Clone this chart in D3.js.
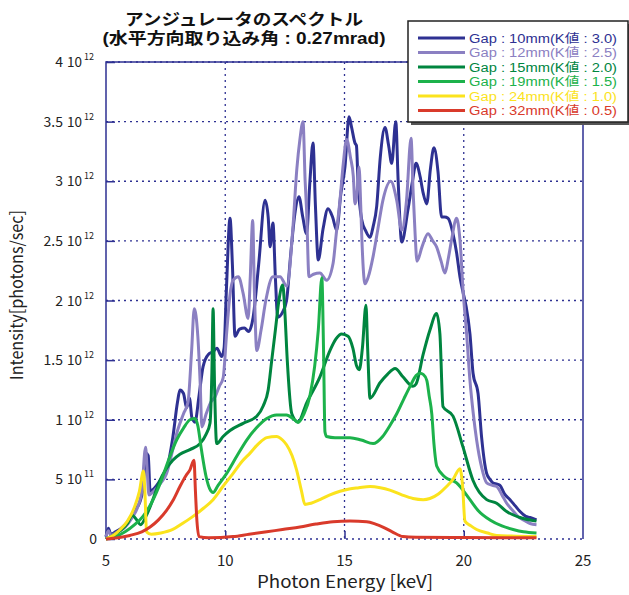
<!DOCTYPE html>
<html>
<head>
<meta charset="utf-8">
<script src="https://cdn.jsdelivr.net/npm/d3@7"></script>
<style>
  body { margin: 0; background: #fff; }
  svg { display: block; }
  text { font-family: "Noto Sans CJK JP", "Noto Sans", sans-serif; }
  .tight { font-family: "Liberation Sans", "Noto Sans CJK JP", sans-serif; }
</style>
</head>
<body>
<div id="vis-container"><svg width="629" height="595"></svg></div>
<script>
// values are in units of 1e12 photons/sec, energy in keV
var gap10 = [[5.0,0.02],[5.1,0.09],[5.2,0.04],[5.4,0.06],[5.7,0.1],[6.0,0.17],[6.15,0.23],[6.4,0.3],[6.55,0.42],[6.68,0.72],[6.77,0.70],[6.85,0.40],[7.0,0.42],[7.3,0.5],[7.54,0.58],[7.8,0.85],[8.0,1.15],[8.1,1.25],[8.25,1.22],[8.38,1.10],[8.5,1.18],[8.6,1.02],[8.73,0.98],[8.9,1.2],[9.07,1.445],[9.3,1.55],[9.49,1.57],[9.65,1.6],[9.85,1.53],[9.95,1.6],[10.05,2.1],[10.2,2.69],[10.3,2.3],[10.41,1.70],[10.6,1.76],[10.8,1.77],[10.98,1.74],[11.17,1.86],[11.4,2.3],[11.67,2.84],[11.8,2.7],[11.88,2.45],[12.0,2.65],[12.1,2.2],[12.2,1.86],[12.4,1.9],[12.57,2.0],[12.75,2.4],[12.92,2.73],[13.09,2.87],[13.25,2.7],[13.41,2.56],[13.55,3.0],[13.68,3.32],[13.78,2.8],[13.9,2.34],[14.1,2.6],[14.31,2.77],[14.5,2.7],[14.67,2.59],[14.85,2.9],[15.02,3.12],[15.19,3.54],[15.3,3.45],[15.44,3.32],[15.5,3.3],[15.57,2.98],[15.72,2.68],[15.9,2.58],[16.07,2.53],[16.2,2.62],[16.35,2.79],[16.5,3.2],[16.7,3.45],[16.85,3.3],[16.98,3.15],[17.15,3.5],[17.25,3.0],[17.4,2.49],[17.66,2.76],[17.85,3.0],[18.0,3.15],[18.17,3.04],[18.3,2.9],[18.45,2.81],[18.6,3.1],[18.75,3.28],[18.92,3.08],[19.07,2.70],[19.2,2.7],[19.34,2.69],[19.55,2.56],[19.7,2.4],[19.84,2.20],[19.98,2.06],[20.1,1.95],[20.26,1.72],[20.39,1.39],[20.6,1.22],[20.75,0.85],[20.96,0.55],[21.1,0.5],[21.23,0.47],[21.4,0.46],[21.52,0.45],[21.7,0.38],[21.94,0.33],[22.15,0.28],[22.36,0.23],[22.6,0.19],[22.78,0.18],[23.05,0.16]];

var gap12 = [[5.0,0.02],[5.1,0.07],[5.2,0.03],[5.5,0.06],[5.8,0.1],[6.1,0.18],[6.35,0.28],[6.5,0.4],[6.66,0.77],[6.72,0.6],[6.8,0.37],[7.0,0.4],[7.3,0.47],[7.54,0.55],[7.8,0.75],[8.0,0.91],[8.25,1.05],[8.44,1.15],[8.59,1.58],[8.7,1.93],[8.85,1.7],[8.95,1.3],[9.02,0.94],[9.2,1.05],[9.4,1.15],[9.57,1.19],[9.75,1.28],[9.91,1.35],[10.06,1.73],[10.2,2.05],[10.33,2.17],[10.55,2.2],[10.75,2.06],[10.96,1.85],[11.05,2.2],[11.15,2.67],[11.22,2.1],[11.32,1.58],[11.5,1.75],[11.7,2.0],[12.0,2.2],[12.3,2.2],[12.58,2.12],[12.84,2.62],[13.0,3.1],[13.13,3.35],[13.26,3.5],[13.35,3.0],[13.41,2.76],[13.51,2.2],[13.7,2.22],[13.97,2.23],[14.25,2.17],[14.52,2.31],[14.65,2.55],[14.81,2.84],[14.95,3.15],[15.09,3.35],[15.25,3.2],[15.37,3.04],[15.44,2.81],[15.52,2.9],[15.61,3.12],[15.68,2.8],[15.72,2.56],[15.86,2.14],[16.0,2.2],[16.2,2.37],[16.4,2.6],[16.61,2.84],[16.94,3.0],[17.19,2.84],[17.4,2.59],[17.6,2.84],[17.79,3.36],[17.88,2.9],[17.96,2.56],[18.04,2.33],[18.25,2.45],[18.5,2.56],[18.7,2.5],[18.86,2.45],[19.05,2.33],[19.21,2.23],[19.35,2.35],[19.49,2.51],[19.7,2.69],[19.84,2.51],[19.98,2.06],[20.12,1.72],[20.26,1.33],[20.4,1.05],[20.54,0.83],[20.75,0.6],[20.96,0.47],[21.2,0.45],[21.38,0.44],[21.6,0.37],[21.8,0.30],[22.05,0.24],[22.27,0.19],[22.5,0.16],[22.78,0.13],[23.05,0.12]];

var gap15 = [[5.0,0.0],[5.3,0.03],[5.6,0.07],[5.9,0.13],[6.1,0.2],[6.25,0.17],[6.45,0.12],[6.7,0.2],[7.0,0.35],[7.26,0.49],[7.5,0.58],[7.8,0.66],[8.1,0.71],[8.52,0.75],[8.94,0.80],[9.2,0.88],[9.36,0.97],[9.44,1.4],[9.49,1.93],[9.55,1.3],[9.64,0.80],[9.91,0.86],[10.2,0.91],[10.75,0.97],[11.32,1.03],[11.6,1.12],[11.8,1.25],[11.95,1.5],[12.1,1.75],[12.25,2.0],[12.41,2.13],[12.5,1.9],[12.6,1.5],[12.79,1.05],[13.05,0.98],[13.41,1.14],[13.97,1.36],[14.39,1.58],[14.65,1.68],[14.88,1.72],[15.15,1.70],[15.35,1.6],[15.51,1.45],[15.62,1.42],[15.75,1.6],[15.9,1.96],[15.97,1.6],[16.07,1.18],[16.49,1.31],[16.8,1.38],[17.12,1.43],[17.45,1.36],[17.87,1.28],[18.0,1.3],[18.3,1.55],[18.58,1.75],[18.86,1.89],[19.0,1.72],[19.13,1.11],[19.55,1.03],[19.97,0.77],[20.39,0.49],[20.96,0.33],[21.38,0.30],[21.8,0.23],[22.36,0.18],[23.05,0.15]];

var gap19 = [[5.0,0.0],[5.4,0.02],[5.8,0.06],[6.2,0.12],[6.55,0.19],[6.9,0.3],[7.3,0.48],[7.6,0.65],[7.96,0.83],[8.25,0.93],[8.52,1.0],[8.73,1.01],[8.85,0.95],[9.0,0.75],[9.2,0.52],[9.35,0.42],[9.49,0.39],[9.7,0.45],[10.06,0.55],[10.5,0.7],[10.9,0.83],[11.3,0.93],[11.74,1.01],[12.15,1.04],[12.57,1.04],[12.9,1.0],[13.06,0.98],[13.3,1.05],[13.55,1.2],[13.75,1.45],[13.9,1.75],[14.05,2.19],[14.12,1.6],[14.18,0.9],[14.25,0.86],[14.6,0.85],[15.23,0.85],[15.7,0.83],[16.2,0.80],[16.6,0.86],[16.9,0.95],[17.19,1.05],[17.5,1.18],[17.75,1.28],[18.0,1.37],[18.17,1.39],[18.3,1.38],[18.45,1.33],[18.55,1.2],[18.66,1.05],[18.75,0.8],[18.87,0.61],[19.21,0.52],[19.7,0.47],[20.26,0.33],[20.6,0.24],[21.1,0.16],[21.6,0.11],[22.07,0.08],[22.5,0.06],[23.05,0.05]];

var gap24 = [[5.0,0.0],[5.3,0.03],[5.6,0.08],[5.9,0.15],[6.2,0.27],[6.4,0.4],[6.57,0.57],[6.63,0.4],[6.7,0.06],[6.9,0.04],[7.3,0.05],[7.8,0.08],[8.2,0.13],[8.65,0.19],[9.1,0.26],[9.49,0.33],[9.9,0.44],[10.33,0.55],[10.7,0.65],[11.04,0.72],[11.4,0.8],[11.74,0.85],[12.15,0.86],[12.4,0.83],[12.57,0.79],[12.8,0.7],[12.99,0.58],[13.2,0.4],[13.34,0.29],[13.6,0.3],[13.97,0.33],[14.39,0.37],[14.81,0.40],[15.2,0.42],[15.6,0.43],[16.07,0.44],[16.5,0.43],[16.9,0.41],[17.4,0.37],[17.87,0.34],[18.3,0.33],[18.58,0.34],[18.95,0.38],[19.28,0.44],[19.55,0.5],[19.84,0.59],[19.95,0.45],[20.05,0.15],[20.3,0.11],[20.54,0.08],[21.0,0.05],[21.38,0.03],[22.0,0.025],[23.05,0.02]];

var gap32 = [[5.0,0.0],[5.5,0.01],[6.0,0.03],[6.5,0.06],[6.85,0.10],[7.2,0.16],[7.54,0.24],[7.8,0.32],[8.1,0.44],[8.35,0.53],[8.52,0.58],[8.69,0.66],[8.75,0.4],[8.8,0.19],[8.9,0.02],[9.3,0.01],[10.33,0.02],[11.0,0.04],[11.74,0.06],[12.4,0.08],[13.13,0.10],[13.8,0.125],[14.52,0.145],[15.23,0.15],[15.93,0.145],[16.3,0.125],[16.61,0.10],[17.0,0.06],[17.45,0.02],[18.0,0.015],[20.0,0.012],[23.05,0.01]];

var seriesNames = ['Gap : 10mm(K値 : 3.0)', 'Gap : 12mm(K値 : 2.5)', 'Gap : 15mm(K値 : 2.0)', 'Gap : 19mm(K値 : 1.5)', 'Gap : 24mm(K値 : 1.0)', 'Gap : 32mm(K値 : 0.5)'];
var seriesColors = ['#2e3192', '#8b80c2', '#00853f', '#1cb24b', '#fbe31d', '#d93a2b'];
var seriesData = [gap10, gap12, gap15, gap19, gap24, gap32];

var titleLines = ['アンジュレータのスペクトル', '(水平方向取り込み角 : 0.27mrad)'];

var xTicks = [5, 10, 15, 20, 25];
var yTicks = [0, 0.5, 1, 1.5, 2, 2.5, 3, 3.5, 4];
var yTickMantissa = ['0', '5', '1', '1.5', '2', '2.5', '3', '3.5', '4'];
var yTickExp = ['', '11', '12', '12', '12', '12', '12', '12', '12'];

var margin = { top: 62, left: 106, bottom: 56, right: 46 };
var svg = d3.select('#vis-container svg');
var svgWidth = 629, svgHeight = 595;
var axisColor = '#2e3192';

var xScale = d3.scaleLinear().domain([5, 25]).range([margin.left, svgWidth - margin.right]);
var yScale = d3.scaleLinear().domain([0, 4]).range([svgHeight - margin.bottom, margin.top]);

/////////////////////////////////////////////////////////////////////
//                        GRID + FRAME                             //
/////////////////////////////////////////////////////////////////////
svg.append('g').selectAll('line')
    .data(yTicks)
    .enter().append('line')
    .attr('x1', xScale(5)).attr('x2', xScale(25))
    .attr('y1', d => yScale(d)).attr('y2', d => yScale(d))
    .attr('stroke', axisColor).attr('stroke-width', 1.3)
    .attr('stroke-dasharray', '2,4');

svg.append('g').selectAll('line')
    .data(xTicks.slice(1, -1))
    .enter().append('line')
    .attr('x1', d => xScale(d)).attr('x2', d => xScale(d))
    .attr('y1', yScale(4)).attr('y2', yScale(0))
    .attr('stroke', axisColor).attr('stroke-width', 1.3)
    .attr('stroke-dasharray', '2,4');

// solid left / top / right edges, bottom stays dotted
svg.append('path')
    .attr('d', 'M' + xScale(5) + ',' + yScale(0) + 'V' + yScale(4) + 'H' + xScale(25) + 'V' + yScale(0))
    .attr('fill', 'none').attr('stroke', axisColor).attr('stroke-width', 1.5);

// inward ticks
var yAxis = d3.axisRight(yScale).tickValues(yTicks).tickSize(9).tickFormat('');
svg.append('g')
    .attr('transform', 'translate(' + xScale(5) + ',0)')
    .call(yAxis)
    .call(g => g.select('.domain').remove())
    .call(g => g.selectAll('.tick line').attr('stroke', axisColor).attr('stroke-width', 1.5));

var xAxis = d3.axisTop(xScale).tickValues(xTicks.slice(1, -1)).tickSize(8).tickFormat('');
svg.append('g')
    .attr('transform', 'translate(0,' + yScale(0) + ')')
    .call(xAxis)
    .call(g => g.select('.domain').remove())
    .call(g => g.selectAll('.tick line').attr('stroke', axisColor).attr('stroke-width', 1.5));

/////////////////////////////////////////////////////////////////////
//                        TICK LABELS                              //
/////////////////////////////////////////////////////////////////////
svg.append('g').selectAll('text')
    .data(xTicks)
    .enter().append('text')
    .attr('x', d => xScale(d)).attr('y', 566)
    .attr('text-anchor', 'middle')
    .attr('font-size', 15).attr('fill', '#222')
    .text(d => d);

var yLab = svg.append('g').selectAll('g')
    .data(yTicks)
    .enter().append('g')
    .attr('transform', d => 'translate(0,' + (yScale(d) + 5) + ')');

yLab.append('text')
    .attr('x', (d, i) => yTickExp[i] ? 63 : 97)
    .attr('text-anchor', 'end')
    .attr('font-size', 14).attr('fill', '#222')
    .text((d, i) => yTickMantissa[i]);

yLab.filter((d, i) => yTickExp[i]).append('text')
    .attr('x', 67)
    .attr('font-size', 14).attr('fill', '#222')
    .attr('textLength', 15).attr('lengthAdjust', 'spacingAndGlyphs')
    .text('10');

yLab.filter((d, i) => yTickExp[i]).append('text')
    .attr('x', 84).attr('y', -7)
    .attr('font-size', 9).attr('fill', '#222')
    .text(d => yTickExp[yTicks.indexOf(d)]);

/////////////////////////////////////////////////////////////////////
//                        CURVES                                   //
/////////////////////////////////////////////////////////////////////
var line = d3.line()
    .x(d => xScale(d[0]))
    .y(d => yScale(d[1]))
    .curve(d3.curveMonotoneX);

svg.append('g').selectAll('path')
    .data(seriesData)
    .enter().append('path')
    .attr('d', line)
    .attr('fill', 'none')
    .attr('stroke', (d, i) => seriesColors[i])
    .attr('stroke-width', 3)
    .attr('stroke-linejoin', 'round');

/////////////////////////////////////////////////////////////////////
//                        TITLES                                   //
/////////////////////////////////////////////////////////////////////
var titleWidths = [238, 283];
svg.append('g').selectAll('text')
    .data(titleLines)
    .enter().append('text')
    .attr('class', 'tight')
    .attr('text-anchor', 'middle')
    .attr('font-size', 16).attr('font-weight', 'bold').attr('fill', '#111')
    .attr('x', 244)
    .attr('y', (d, i) => 25 + i * 18.5)
    .attr('textLength', (d, i) => titleWidths[i]).attr('lengthAdjust', 'spacingAndGlyphs')
    .text(d => d);

svg.append('text')
    .attr('x', 345).attr('y', 588)
    .attr('text-anchor', 'middle')
    .attr('font-size', 17).attr('fill', '#222')
    .attr('textLength', 176).attr('lengthAdjust', 'spacingAndGlyphs')
    .text('Photon Energy [keV]');

svg.append('text')
    .attr('transform', 'translate(23,295) rotate(-90)')
    .attr('text-anchor', 'middle')
    .attr('font-size', 17).attr('fill', '#222')
    .attr('textLength', 170).attr('lengthAdjust', 'spacingAndGlyphs')
    .text('Intensity[photons/sec]');

/////////////////////////////////////////////////////////////////////
//                        LEGEND                                   //
/////////////////////////////////////////////////////////////////////
var legend = svg.append('g').attr('transform', 'translate(408,21)');
legend.append('rect')
    .attr('x', 3).attr('y', 3).attr('width', 220).attr('height', 101)
    .attr('fill', '#555');
legend.append('rect')
    .attr('width', 220).attr('height', 101)
    .attr('fill', '#fff').attr('stroke', '#222').attr('stroke-width', 1.5);

var rows = legend.selectAll('.row')
    .data(seriesNames)
    .enter().append('g')
    .attr('class', 'row')
    .attr('transform', (d, i) => 'translate(0,' + (17 + i * 14.5) + ')');

rows.append('line')
    .attr('x1', 10).attr('x2', 57)
    .attr('stroke', (d, i) => seriesColors[i]).attr('stroke-width', 3);

rows.append('text')
    .attr('class', 'tight')
    .attr('x', 61).attr('y', 4.5)
    .attr('font-size', 12.5)
    .attr('fill', (d, i) => seriesColors[i])
    .attr('textLength', 148).attr('lengthAdjust', 'spacingAndGlyphs')
    .text(d => d);
</script>
</body>
</html>
